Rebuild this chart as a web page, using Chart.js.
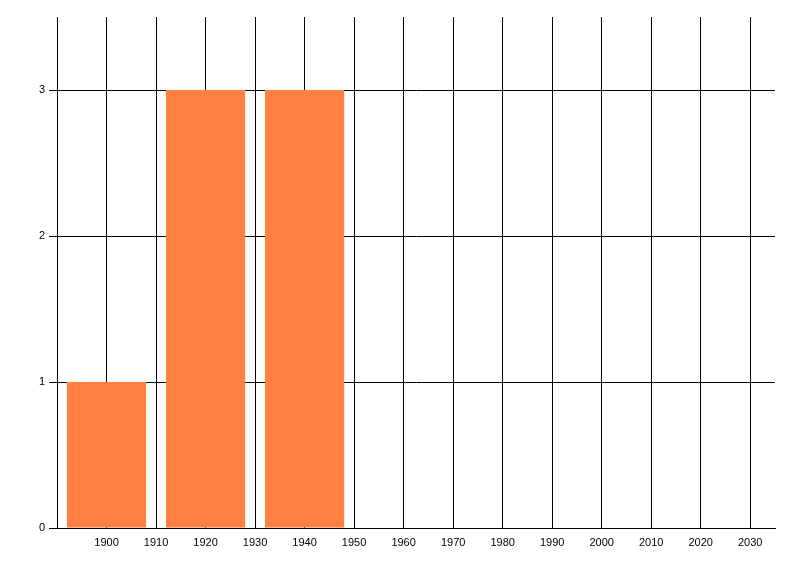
<!DOCTYPE html>
<html>
<head>
<meta charset="utf-8">
<script src="https://cdn.jsdelivr.net/npm/chart.js@4"></script>
<style>
html,body{margin:0;padding:0;background:#fff;}
#wrap{width:800px;height:576px;}
</style>
</head>
<body>
<div id="wrap"><canvas id="c" width="800" height="576"></canvas></div>
<script>
const years = [1900, 1920, 1940];
const counts = [1, 3, 3];
const xTickValues = [1900, 1910, 1920, 1930, 1940, 1950, 1960, 1970, 1980, 1990, 2000, 2010, 2020, 2030];
const yTickValues = [0, 1, 2, 3];

const points = years.map((x, i) => ({x: x, y: counts[i]}));

new Chart(document.getElementById('c'), {
  type: 'bar',
  data: {
    datasets: [{
      data: points,
      backgroundColor: '#FF8040',
      borderWidth: 0,
      categoryPercentage: 0.8,
      barPercentage: 2.0
    }]
  },
  options: {
    responsive: false,
    animation: false,
    devicePixelRatio: 1,
    layout: {padding: {left: 0, right: 25, top: 17, bottom: 0}},
    plugins: {legend: {display: false}, tooltip: {enabled: false}},
    scales: {
      x: {
        type: 'linear',
        min: 1890,
        max: 2035,
        offset: false,
        afterBuildTicks: s => { s.ticks = xTickValues.map(v => ({value: v})); },
        afterFit: s => { s.height = 48; },
        grid: {color: '#000', lineWidth: 1, drawTicks: false, offset: false},
        border: {color: '#000', width: 1},
        ticks: {color: '#000', padding: 8, maxRotation: 0, autoSkip: false,
                font: {family: 'Liberation Sans', size: 11},
                callback: v => String(v)}
      },
      y: {
        min: 0,
        max: 3.5,
        afterBuildTicks: s => { s.ticks = yTickValues.map(v => ({value: v})); },
        afterFit: s => { s.width = 57; },
        grid: {color: '#000', lineWidth: 1, drawTicks: true, tickLength: 8},
        border: {color: '#000', width: 1},
        ticks: {color: '#000', padding: 4, font: {family: 'Liberation Sans', size: 11},
                callback: v => String(v)}
      }
    }
  }
});
</script>
</body>
</html>
